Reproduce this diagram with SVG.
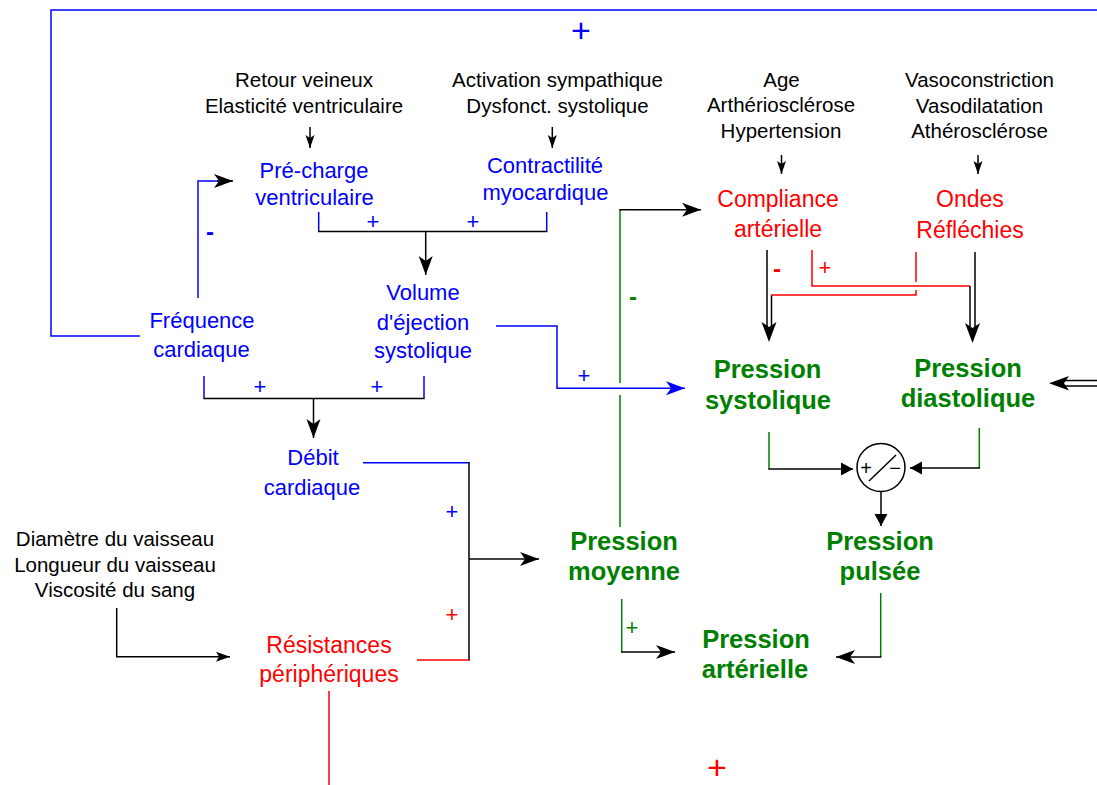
<svg xmlns="http://www.w3.org/2000/svg" width="1097" height="785" viewBox="0 0 1097 785">
<style>
text{font-family:"Liberation Sans",Arial,sans-serif;text-anchor:middle}
.k{font-size:20.5px;fill:#000}
.b{font-size:22px;fill:#0000FF}
.r{font-size:23px;fill:#FF0000}
.g{font-size:25.5px;font-weight:bold;fill:#008000}
.sb{font-size:22px;fill:#0000FF}
.sr{font-size:22px;fill:#FF0000}
.sg{font-size:22px;fill:#008000}
.ln{fill:none;stroke-width:1.5}
.lk{stroke:#000}.lb{stroke:#0000FF}.lr{stroke:#FF0000}.lg{stroke:#008000}
</style>
<defs>
<marker id="big" viewBox="-20 -8 21 16" refX="0" refY="0" markerWidth="21" markerHeight="16" orient="auto" markerUnits="userSpaceOnUse"><path d="M0,0 L-19,-7 L-14,0 L-19,7Z" fill="#000"/></marker>
<marker id="bigb" viewBox="-20 -8 21 16" refX="0" refY="0" markerWidth="21" markerHeight="16" orient="auto" markerUnits="userSpaceOnUse"><path d="M0,0 L-19,-7 L-14,0 L-19,7Z" fill="#0000FF"/></marker>
<marker id="med" viewBox="-14 -8 15 16" refX="0" refY="0" markerWidth="15" markerHeight="16" orient="auto" markerUnits="userSpaceOnUse"><path d="M0,0 L-12,-6.5 L-12,6.5Z" fill="#000"/></marker>
<marker id="sm" viewBox="-15 -6 16 12" refX="0" refY="0" markerWidth="16" markerHeight="12" orient="auto" markerUnits="userSpaceOnUse"><path d="M0,0 L-13,-4.5 L-10,0 L-13,4.5Z" fill="#000"/></marker>
<marker id="sm2" viewBox="-15 -6 16 12" refX="0" refY="0" markerWidth="16" markerHeight="12" orient="auto" markerUnits="userSpaceOnUse"><path d="M0,0 L-14,-5 L-11,0 L-14,5Z" fill="#000"/></marker>
</defs>
<rect width="1097" height="785" fill="#fff"/>

<g id="connectors">
<polyline class="ln lb" points="140,336 51,336 51,10 1097,10"/>
<polyline class="ln lb" points="198,298 198,181 218,181"/>
<line class="ln lk" x1="217" y1="181" x2="233" y2="181" marker-end="url(#big)"/>
<line class="ln lk" x1="310" y1="127" x2="310" y2="148" marker-end="url(#sm)"/>
<line class="ln lk" x1="552.3" y1="127" x2="552.3" y2="148" marker-end="url(#sm)"/>
<line class="ln lk" x1="781.5" y1="155" x2="781.5" y2="174" marker-end="url(#sm)"/>
<line class="ln lk" x1="978" y1="155" x2="978" y2="174" marker-end="url(#sm)"/>
<line class="ln lb" x1="318.7" y1="212" x2="318.7" y2="231"/>
<line class="ln lb" x1="546.7" y1="212" x2="546.7" y2="231"/>
<line class="ln lk" x1="318" y1="231.5" x2="547.5" y2="231.5"/>
<line class="ln lk" x1="425.7" y1="231.5" x2="425.7" y2="275" marker-end="url(#big)"/>
<line class="ln lb" x1="204" y1="376" x2="204" y2="398"/>
<line class="ln lb" x1="424" y1="376" x2="424" y2="398"/>
<line class="ln lk" x1="203.3" y1="398.5" x2="424.7" y2="398.5"/>
<line class="ln lk" x1="313.5" y1="398.5" x2="313.5" y2="438" marker-end="url(#big)"/>
<polyline class="ln lb" points="496,326 557,326 557,388.3 685,388.3" marker-end="url(#bigb)"/>
<line class="ln lb" x1="363" y1="462.7" x2="469" y2="462.7"/>
<line class="ln lk" x1="469" y1="462" x2="469" y2="660.7"/>
<line class="ln lr" x1="417" y1="660" x2="469" y2="660"/>
<line class="ln lk" x1="469" y1="559" x2="539" y2="559" marker-end="url(#big)"/>
<polyline class="ln lk" points="116.7,608 116.7,656.7 230,656.7" marker-end="url(#sm2)"/>
<line class="ln lr" x1="329" y1="691" x2="329" y2="785"/>
<line class="ln lg" x1="620" y1="527" x2="620" y2="395"/>
<line class="ln lg" x1="620" y1="383" x2="620" y2="209.7"/>
<line class="ln lk" x1="619.3" y1="209.7" x2="701" y2="209.7" marker-end="url(#big)"/>
<line class="ln lg" x1="621.7" y1="599" x2="621.7" y2="652"/>
<line class="ln lk" x1="621" y1="652" x2="675" y2="652" marker-end="url(#big)"/>
<line class="ln lk" x1="767" y1="250" x2="767" y2="332"/>
<line class="ln lk" x1="771.5" y1="295" x2="771.5" y2="332"/>
<path d="M769,342 L761.5,322 L769,327 L776.5,322Z" fill="#000"/>
<polyline class="ln lr" points="812,250 812,286 970,286"/>
<line class="ln lk" x1="970" y1="286" x2="970" y2="332"/>
<line class="ln lk" x1="975" y1="252" x2="975" y2="332"/>
<path d="M972.5,343 L965,323 L972.5,328 L980,323Z" fill="#000"/>
<line class="ln lr" x1="916" y1="252" x2="916" y2="282"/>
<polyline class="ln lr" points="916,290 916,295 771,295"/>
<line class="ln lk" x1="1064" y1="380.5" x2="1097" y2="380.5"/>
<line class="ln lk" x1="1064" y1="386" x2="1097" y2="386"/>
<path d="M1049,383.3 L1069,376 L1064,383.3 L1069,390.6Z" fill="#000"/>
<line class="ln lg" x1="769" y1="432" x2="769" y2="469"/>
<line class="ln lk" x1="768.3" y1="469" x2="853" y2="469" marker-end="url(#med)"/>
<line class="ln lg" x1="979.3" y1="428" x2="979.3" y2="468"/>
<line class="ln lk" x1="980" y1="468" x2="910" y2="468" marker-end="url(#med)"/>
<line class="ln lk" x1="881" y1="491" x2="881" y2="526" marker-end="url(#med)"/>
<line class="ln lg" x1="880.7" y1="593" x2="880.7" y2="657"/>
<line class="ln lk" x1="881.4" y1="657" x2="836" y2="657" marker-end="url(#big)"/>
</g>

<g id="signs">
<text x="581" y="42" style="font-size:34px;fill:#0000FF">+</text>
<text x="210" y="240" style="font-size:24px;fill:#0000FF;font-weight:bold">-</text>
<text class="sb" x="373" y="229">+</text>
<text class="sb" x="473" y="229">+</text>
<text class="sb" x="260" y="394">+</text>
<text class="sb" x="377" y="394">+</text>
<text class="sb" x="584" y="383">+</text>
<text class="sb" x="452" y="519">+</text>
<text class="sr" x="452" y="622">+</text>
<text x="633" y="305" style="font-size:24px;fill:#008000;font-weight:bold">-</text>
<text class="sg" x="632" y="635">+</text>
<text x="777" y="277" style="font-size:24px;fill:#FF0000;font-weight:bold">-</text>
<text class="sr" x="825" y="275">+</text>
<text x="717" y="779" style="font-size:34px;fill:#FF0000">+</text>
</g>

<g id="n-retour"><text class="k" x="304" y="87">Retour veineux</text><text class="k" x="304" y="112.5">Elasticité ventriculaire</text></g>
<g id="n-activation"><text class="k" x="557.5" y="87">Activation sympathique</text><text class="k" x="557.5" y="113">Dysfonct. systolique</text></g>
<g id="n-age"><text class="k" x="781.5" y="87">Age</text><text class="k" x="781" y="112">Arthériosclérose</text><text class="k" x="781" y="138">Hypertension</text></g>
<g id="n-vaso"><text class="k" x="979.5" y="87">Vasoconstriction</text><text class="k" x="979.5" y="112.5">Vasodilatation</text><text class="k" x="979.5" y="138">Athérosclérose</text></g>
<g id="n-diametre"><text class="k" x="115" y="546">Diamètre du vaisseau</text><text class="k" x="115" y="571.5">Longueur du vaisseau</text><text class="k" x="115" y="597">Viscosité du sang</text></g>

<g id="n-precharge"><text class="b" x="314" y="178">Pré-charge</text><text class="b" x="314.5" y="205">ventriculaire</text></g>
<g id="n-contractilite"><text class="b" x="545" y="173">Contractilité</text><text class="b" x="545.5" y="199.5">myocardique</text></g>
<g id="n-volume"><text class="b" x="423" y="300">Volume</text><text class="b" x="423" y="330">d'éjection</text><text class="b" x="423" y="357.5">systolique</text></g>
<g id="n-frequence"><text class="b" x="202" y="328">Fréquence</text><text class="b" x="201.5" y="357">cardiaque</text></g>
<g id="n-debit"><text class="b" x="313" y="465">Débit</text><text class="b" x="312" y="495">cardiaque</text></g>

<g id="n-compliance"><text class="r" x="778" y="207">Compliance</text><text class="r" x="778" y="237">artérielle</text></g>
<g id="n-ondes"><text class="r" x="970" y="207">Ondes</text><text class="r" x="970" y="238">Réfléchies</text></g>
<g id="n-resistances"><text class="r" x="329" y="652.5">Résistances</text><text class="r" x="329" y="682">périphériques</text></g>

<g id="n-psys"><text class="g" x="767.5" y="378">Pression</text><text class="g" x="768" y="409">systolique</text></g>
<g id="n-pdia"><text class="g" x="968" y="377">Pression</text><text class="g" x="968" y="407">diastolique</text></g>
<g id="n-pmoy"><text class="g" x="624" y="550">Pression</text><text class="g" x="624" y="580">moyenne</text></g>
<g id="n-ppuls"><text class="g" x="880" y="550">Pression</text><text class="g" x="880" y="580">pulsée</text></g>
<g id="n-part"><text class="g" x="756" y="648">Pression</text><text class="g" x="755" y="678">artérielle</text></g>

<g id="n-comparator">
<circle cx="881" cy="467.5" r="24" fill="#fff" stroke="#000" stroke-width="1.5"/>
<line x1="869" y1="481" x2="896" y2="455" stroke="#000" stroke-width="1.5"/>
<text x="866" y="475" style="font-size:20px;fill:#000">+</text>
<text x="895" y="475" style="font-size:20px;fill:#000">−</text>
</g>
</svg>
